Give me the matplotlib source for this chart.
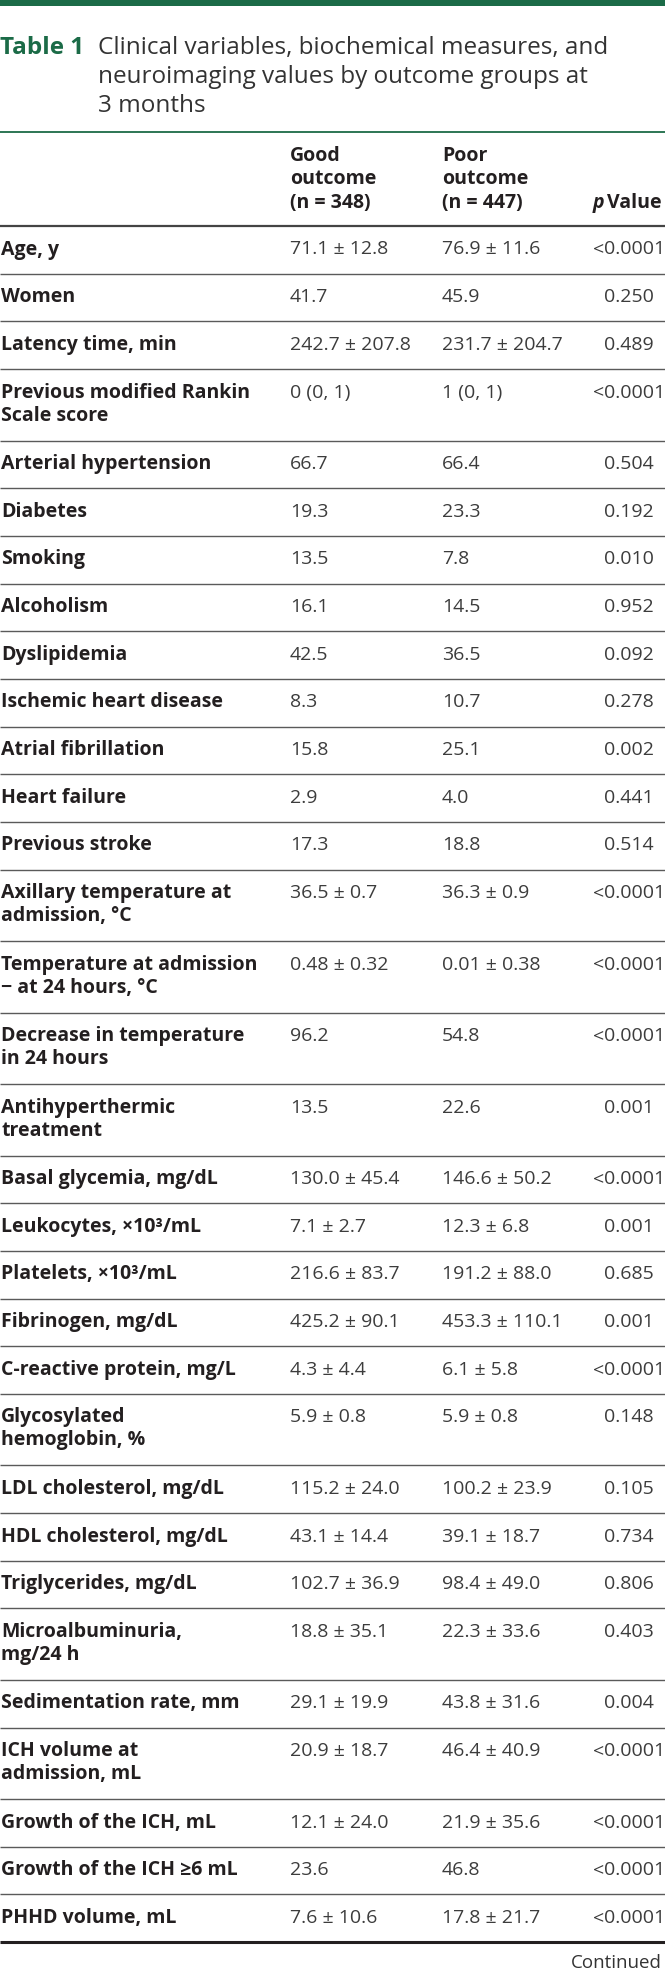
import matplotlib
matplotlib.use('Agg')
import matplotlib.pyplot as plt

plt.rcParams['font.family'] = ['Open Sans', 'DejaVu Sans']

green = '#1b6b47'
ink = '#231f20'
grey = '#3c3c3c'

title_lead = 'Table 1'
title_lines = ['Clinical variables, biochemical measures, and',
               'neuroimaging values by outcome groups at',
               '3 months']
col_heads = [['Good', 'outcome', '(n = 348)'],
             ['Poor', 'outcome', '(n = 447)']]

labels = [
    'Age, y', 'Women', 'Latency time, min',
    'Previous modified Rankin\nScale score',
    'Arterial hypertension', 'Diabetes', 'Smoking', 'Alcoholism',
    'Dyslipidemia', 'Ischemic heart disease', 'Atrial fibrillation',
    'Heart failure', 'Previous stroke',
    'Axillary temperature at\nadmission, °C',
    'Temperature at admission\n\u2212 at 24 hours, °C',
    'Decrease in temperature\nin 24 hours',
    'Antihyperthermic\ntreatment',
    'Basal glycemia, mg/dL', 'Leukocytes, ×10³/mL', 'Platelets, ×10³/mL',
    'Fibrinogen, mg/dL', 'C-reactive protein, mg/L',
    'Glycosylated\nhemoglobin, %',
    'LDL cholesterol, mg/dL', 'HDL cholesterol, mg/dL',
    'Triglycerides, mg/dL', 'Microalbuminuria,\nmg/24 h',
    'Sedimentation rate, mm', 'ICH volume at\nadmission, mL',
    'Growth of the ICH, mL', 'Growth of the ICH ≥6 mL', 'PHHD volume, mL',
]
good = [
    '71.1 ± 12.8', '41.7', '242.7 ± 207.8', '0 (0, 1)', '66.7', '19.3',
    '13.5', '16.1', '42.5', '8.3', '15.8', '2.9', '17.3', '36.5 ± 0.7',
    '0.48 ± 0.32', '96.2', '13.5', '130.0 ± 45.4', '7.1 ± 2.7',
    '216.6 ± 83.7', '425.2 ± 90.1', '4.3 ± 4.4', '5.9 ± 0.8',
    '115.2 ± 24.0', '43.1 ± 14.4', '102.7 ± 36.9', '18.8 ± 35.1',
    '29.1 ± 19.9', '20.9 ± 18.7', '12.1 ± 24.0', '23.6', '7.6 ± 10.6',
]
poor = [
    '76.9 ± 11.6', '45.9', '231.7 ± 204.7', '1 (0, 1)', '66.4', '23.3',
    '7.8', '14.5', '36.5', '10.7', '25.1', '4.0', '18.8', '36.3 ± 0.9',
    '0.01 ± 0.38', '54.8', '22.6', '146.6 ± 50.2', '12.3 ± 6.8',
    '191.2 ± 88.0', '453.3 ± 110.1', '6.1 ± 5.8', '5.9 ± 0.8',
    '100.2 ± 23.9', '39.1 ± 18.7', '98.4 ± 49.0', '22.3 ± 33.6',
    '43.8 ± 31.6', '46.4 ± 40.9', '21.9 ± 35.6', '46.8', '17.8 ± 21.7',
]
pvals = [
    '<0.0001', '0.250', '0.489', '<0.0001', '0.504', '0.192', '0.010',
    '0.952', '0.092', '0.278', '0.002', '0.441', '0.514', '<0.0001',
    '<0.0001', '<0.0001', '0.001', '<0.0001', '0.001', '0.685', '0.001',
    '<0.0001', '0.148', '0.105', '0.734', '0.806', '0.403', '0.004',
    '<0.0001', '<0.0001', '<0.0001', '<0.0001',
]

W, H = 665, 1970
fig = plt.figure(figsize=(W / 100, H / 100), dpi=100)
ax = fig.add_axes([0, 0, 1, 1])
ax.set_xlim(0, W)
ax.set_ylim(H, 0)
ax.axis('off')

fs = 14
x_lab, x_good, x_poor, x_p = 1, 290, 442, 604

# top bar and title
ax.axhspan(0, 6, color=green, lw=0)
ax.text(0, 54, title_lead, fontsize=17.5, fontweight='bold', color=green)
for i, t in enumerate(title_lines):
    ax.text(98, 54 + i * 29, t, fontsize=17.5, color='#333333')
ax.plot([0, W], [132, 132], color=green, lw=1.3, solid_capstyle='butt')

# column heads
for x, lines in zip([x_good, x_poor], col_heads):
    for i, t in enumerate(lines):
        ax.text(x, 161 + i * 23.5, t, fontsize=fs, fontweight='bold', color=ink)
ax.text(662, 208, 'Value', fontsize=fs, fontweight='bold', color=ink, ha='right')
ax.text(593, 208, 'p', fontsize=fs, fontweight='bold', style='italic',
        color=ink, ha='left')
ax.plot([0, W], [226, 226], color='#444444', lw=1.6, solid_capstyle='butt')

# body
y = 226
single, double = 47.67, 71.5
for k, lab in enumerate(labels):
    parts = lab.split('\n')
    h = single if len(parts) == 1 else double
    for i, t in enumerate(parts):
        ax.text(x_lab, y + 28.5 + i * 23, t, fontsize=fs, fontweight='bold',
                color=ink)
    ax.text(x_good, y + 28.5, good[k], fontsize=fs, color=grey)
    ax.text(x_poor, y + 28.5, poor[k], fontsize=fs, color=grey)
    p = pvals[k]
    if p.startswith('<'):
        ax.text(x_p, y + 28.5, '<', fontsize=fs, color=grey, ha='right')
        p = p[1:]
    ax.text(x_p, y + 28.5, p, fontsize=fs, color=grey)
    y += h
    last = k == len(labels) - 1
    ax.plot([0, W], [y, y], color=ink if last else '#5a5a5a',
            lw=2.2 if last else 1.0, solid_capstyle='butt')

ax.text(662, y + 26, 'Continued', fontsize=fs - 0.5, color='#333333', ha='right')

fig.savefig('out.png', dpi=100)
